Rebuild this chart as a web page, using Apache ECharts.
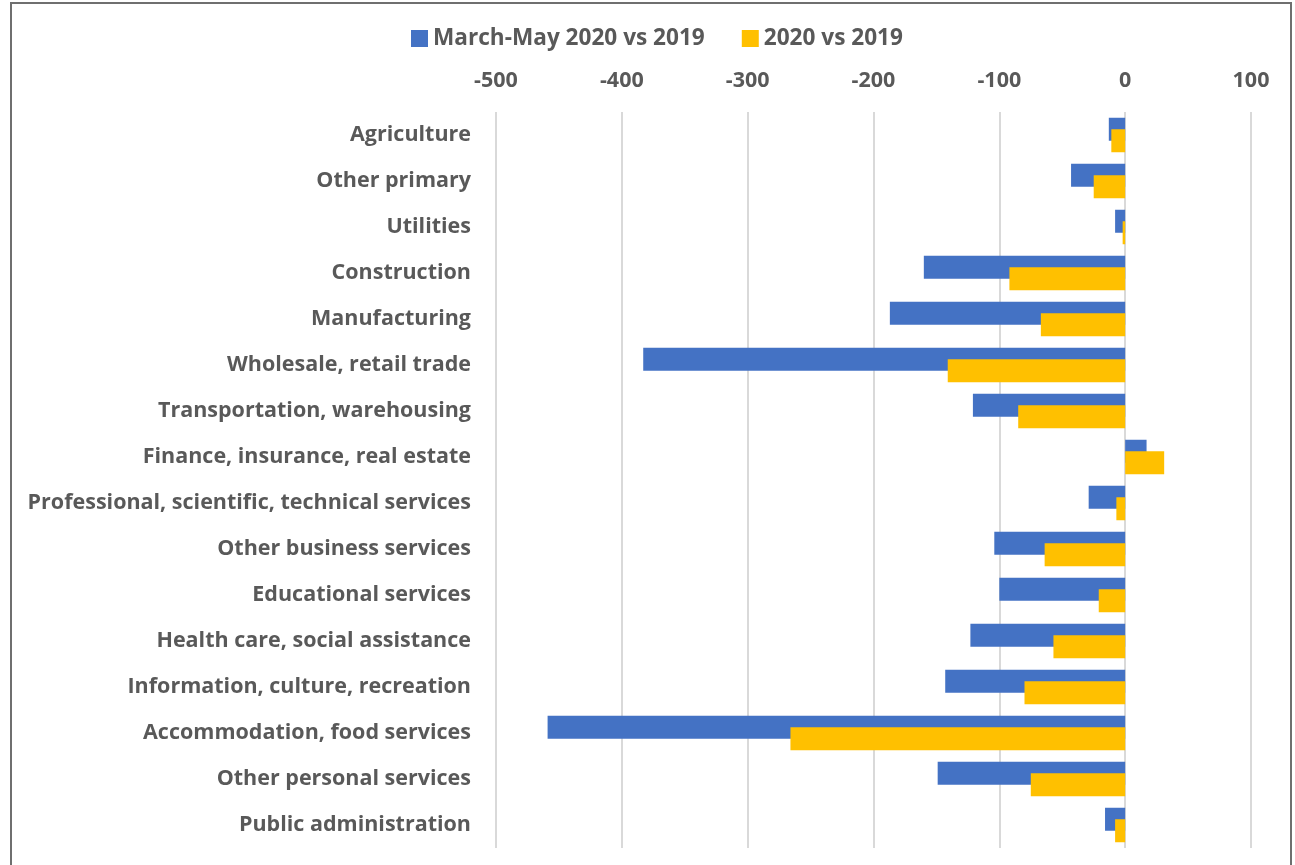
<!DOCTYPE html>
<html>
<head>
<meta charset="utf-8">
<script src="https://cdn.jsdelivr.net/npm/echarts@6/dist/echarts.min.js"></script>
<style>
html, body { margin: 0; padding: 0; background: #fff; }
#container { width: 1295px; height: 865px; }
</style>
</head>
<body>
<div id="container"></div>
<script>
var categories = [
    'Agriculture', 'Other primary', 'Utilities', 'Construction', 'Manufacturing',
    'Wholesale, retail trade', 'Transportation, warehousing', 'Finance, insurance, real estate',
    'Professional, scientific, technical services', 'Other business services', 'Educational services',
    'Health care, social assistance', 'Information, culture, recreation', 'Accommodation, food services',
    'Other personal services', 'Public administration'
];
var marchMay = [-13, -43, -8, -160, -187, -383, -121, 17, -29, -104, -100, -123, -143, -459, -149, -16];
var fullYear = [-11, -25, -2, -92, -67, -141, -85, 31, -7, -64, -21, -57, -80, -266, -75, -8];
var seriesNames = ['March-May 2020 vs 2019', '2020 vs 2019'];

var labelColor = '#595959';
var font = '"Open Sans", sans-serif';

var dom = document.getElementById("container");
var myChart = echarts.init(dom);
var option = {
    animation: false,
    graphic: [{
        type: 'rect',
        shape: { x: 11, y: 3, width: 1280, height: 880 },
        style: { fill: 'none', stroke: '#6f6f6f', lineWidth: 2 },
        silent: true
    }],
    legend: {
        left: 406,
        top: 22,
        itemWidth: 17,
        itemHeight: 17,
        itemGap: 37,
        icon: 'rect',
        textStyle: { color: labelColor, fontSize: 22.6, fontWeight: 'bold', fontFamily: font },
        data: seriesNames
    },
    grid: { left: 496, right: 44, top: 112, bottom: 17, containLabel: false },
    xAxis: {
        type: 'value',
        position: 'top',
        min: -500,
        max: 100,
        interval: 100,
        axisLine: { show: false },
        axisTick: { show: false },
        axisLabel: { color: labelColor, fontSize: 21.5, fontWeight: 'bold', fontFamily: font, margin: 20 },
        splitLine: { lineStyle: { color: '#d9d9d9', width: 2 } }
    },
    yAxis: {
        type: 'category',
        inverse: true,
        data: categories,
        axisLine: { show: false },
        axisTick: { show: false },
        axisLabel: { color: labelColor, fontSize: 21.5, fontWeight: 'bold', fontFamily: font, margin: 25 }
    },
    series: [
        {
            name: seriesNames[0],
            type: 'bar',
            data: marchMay,
            barWidth: 23,
            barGap: '-50%',
            itemStyle: { color: '#4472c4' }
        },
        {
            name: seriesNames[1],
            type: 'bar',
            data: fullYear,
            barWidth: 23,
            itemStyle: { color: '#ffc000' }
        }
    ]
};
myChart.setOption(option, true);
</script>
</body>
</html>
